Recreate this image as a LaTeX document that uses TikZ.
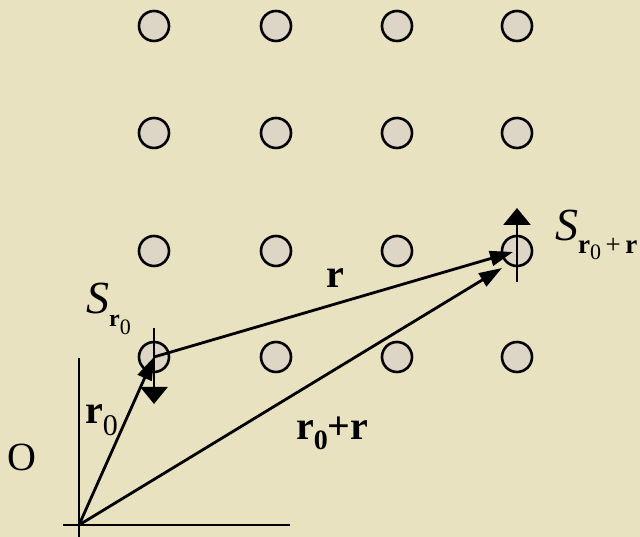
\documentclass[tikz,border=0pt]{standalone}
\usepackage{fontspec}
\setmainfont{Liberation Serif}
\usetikzlibrary{arrows.meta}
\definecolor{parch}{HTML}{E9E2C0}
\definecolor{sitefill}{HTML}{DDD6C6}
\newcommand{\fs}[1]{\fontsize{#1}{#1}\selectfont}
\begin{document}
\begin{tikzpicture}[x=1pt,y=1pt,
  site/.style={circle,draw=black,line width=2.6pt,fill=sitefill,minimum size=30pt,inner sep=0pt},
  vec/.style={line width=2.8pt,-{Triangle[length=23pt,width=15pt]}},
  spinarrow/.style={line width=2.8pt,-{Triangle[length=17pt,width=27pt]}},
  axis/.style={line width=2.8pt},
  lbl/.style={inner sep=0pt,anchor=base west}]
\fill[parch] (0,0) rectangle (640,537);
\useasboundingbox (0,0) rectangle (640,537);
% lattice sites
\foreach \r/\y in {1/511,2/404,3/286,4/180}{
  \foreach \c/\x in {1/154,2/276,3/397,4/517}{
    \node[site] (c\r\c) at (\x,\y) {};
  }
}
% axes
\coordinate (O) at (79,12);
\coordinate (ybot) at (79,0);
\coordinate (ytop) at (79,179);
\coordinate (xl) at (63,12);
\coordinate (xr) at (290,12);
\draw[axis] (ybot) -- (ytop);
\draw[axis] (xl) -- (xr);
% spins
\coordinate (s1a) at (154,209);
\coordinate (s1b) at (154,133);
\coordinate (s2a) at (517,255);
\coordinate (s2b) at (517,329);
\draw[spinarrow] (s1a) -- (s1b);
\draw[spinarrow] (s2a) -- (s2b);
% vectors
\coordinate (rtip) at (513,285);
\coordinate (rrtip) at (502,269);
\draw[vec] (O) -- (c41.center);
\draw[vec] (c41.center) -- (rtip);
\draw[vec] (O) -- (rrtip);
% labels
\node[lbl] (lr) at (326,249) {\fs{40}\bfseries r};
\node[lbl] (lrr) at (296,97) {\fs{40}\bfseries r\raisebox{-10pt}{\fs{28}0}+r};
\node[lbl] (lr0) at (85,113) {\fs{40}\textbf{r}\raisebox{-12pt}{\fs{30}0}};
\node[inner sep=0pt] (lO) at (22,80) {\fs{40}O};
\node[lbl] (lS1) at (86,223) {\fs{46}\itshape S\upshape\raisebox{-13pt}{\fs{24}\bfseries r\raisebox{-8pt}{\fs{22}\mdseries 0}}};
\node[lbl] (lS2) at (555,296) {\fs{46}\itshape S\upshape\raisebox{-13pt}{\fs{27}\textbf{r}\raisebox{-6pt}{\fs{22}0}\,+\,\textbf{r}}};
\end{tikzpicture}
\end{document}
